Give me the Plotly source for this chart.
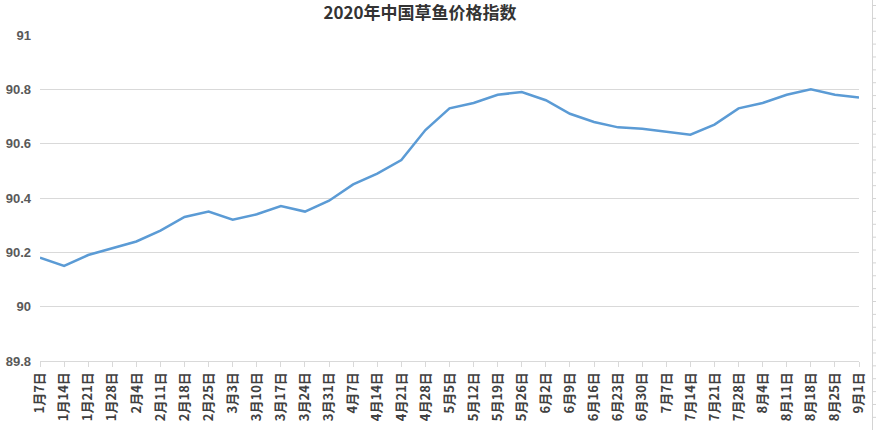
import plotly.graph_objects as go

dates = ["1月7日", "1月14日", "1月21日", "1月28日", "2月4日", "2月11日", "2月18日", "2月25日",
         "3月3日", "3月10日", "3月17日", "3月24日", "3月31日", "4月7日", "4月14日", "4月21日",
         "4月28日", "5月5日", "5月12日", "5月19日", "5月26日", "6月2日", "6月9日", "6月16日",
         "6月23日", "6月30日", "7月7日", "7月14日", "7月21日", "7月28日", "8月4日", "8月11日",
         "8月18日", "8月25日", "9月1日"]
index_values = [90.18, 90.15, 90.19, 90.215, 90.24, 90.28, 90.33, 90.35,
                90.32, 90.34, 90.37, 90.35, 90.39, 90.45, 90.49, 90.54,
                90.65, 90.73, 90.75, 90.78, 90.79, 90.76, 90.71, 90.68,
                90.66, 90.655, 90.645, 90.633, 90.67, 90.73, 90.75, 90.78,
                90.80, 90.78, 90.77]
title_text = "2020年中国草鱼价格指数"

W, H = 876, 430
L, R, T, B = 40, 17, 35, 69
pw, ph = W - L - R, H - T - B

fig = go.Figure()
fig.add_trace(go.Scatter(
    x=dates, y=index_values, mode="lines",
    line=dict(color="#5B9BD5", width=2.5),
    hoverinfo="x+y", showlegend=False,
))

# decorative spreadsheet border at right edge
shapes = []
def px_x(p):
    return (p - L) / pw
def px_y(p):
    return (H - B - p) / ph
shapes.append(dict(type="line", xref="paper", yref="paper",
                   x0=px_x(872.5), x1=px_x(872.5), y0=px_y(0), y1=px_y(430),
                   line=dict(color="#D4D4D4", width=1)))
k = 0
while 5.5 + 12.87 * k < 430:
    yy = 5.5 + 12.87 * k
    shapes.append(dict(type="line", xref="paper", yref="paper",
                       x0=px_x(872.5), x1=px_x(877), y0=px_y(yy), y1=px_y(yy),
                       line=dict(color="#D4D4D4", width=1)))
    k += 1

fig.update_layout(
    width=W, height=H,
    margin=dict(l=L, r=R, t=T, b=B),
    paper_bgcolor="white", plot_bgcolor="white",
    title=dict(text=title_text, x=420 / W, xanchor="center", xref="container",
               y=1 - 13 / H, yanchor="middle", yref="container",
               font=dict(family="Noto Sans CJK SC", size=17, color="#333333", weight="bold")),
    xaxis=dict(
        type="category", range=[0, len(dates) - 1], automargin=False,
        showgrid=False, showline=True, linecolor="#D9D9D9", linewidth=1,
        ticks="outside", ticklen=5, tickcolor="#D9D9D9",
        tickangle=-90,
        tickfont=dict(family="Noto Sans CJK SC", size=13, color="#404040", weight="bold"),
    ),
    yaxis=dict(
        range=[89.8, 91.0], dtick=0.2, tick0=89.8, automargin=False,
        showgrid=True, gridcolor="#D9D9D9", gridwidth=1,
        zeroline=False, showline=False, ticks="",
        ticklabelstandoff=8,
        tickfont=dict(family="Liberation Sans", size=13, color="#595959", weight="bold"),
    ),
    shapes=shapes,
)

fig.write_html("out.html")
